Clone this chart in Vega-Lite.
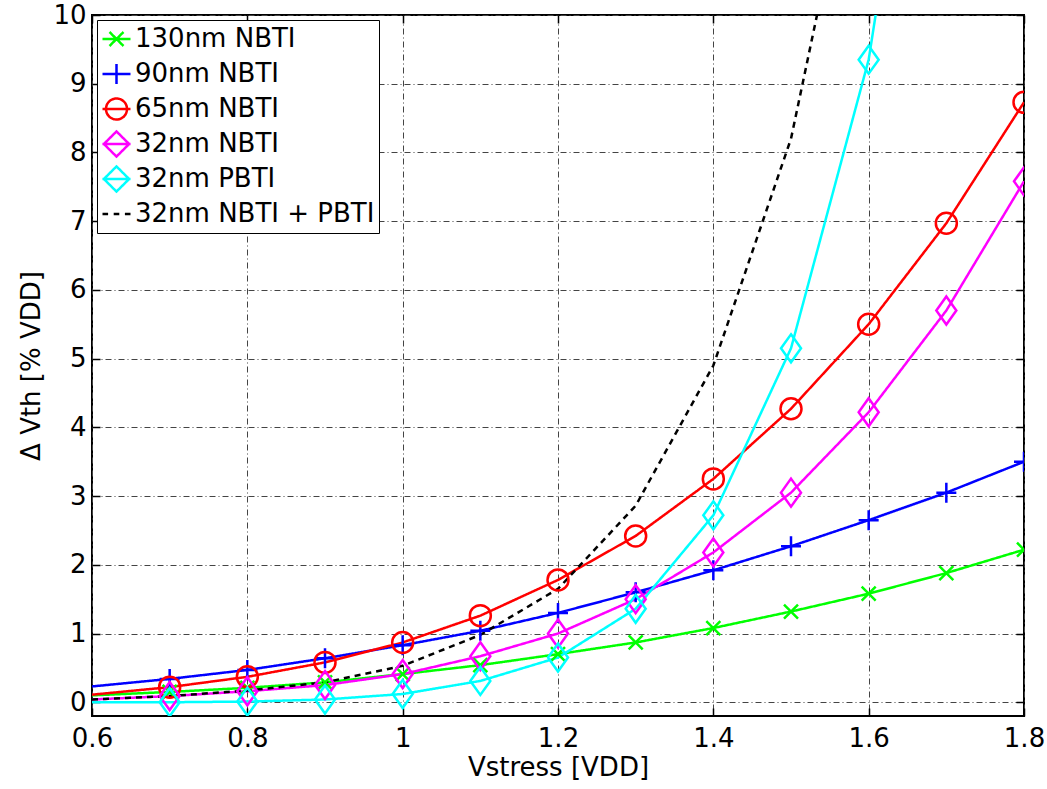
{
  "$schema": "https://vega.github.io/schema/vega-lite/v6.json",
  "width": 932,
  "height": 701,
  "autosize": "none",
  "padding": {"left": 92, "top": 15, "right": 23, "bottom": 73},
  "background": "white",
  "config": {
    "font": "DejaVu Sans",
    "view": {"stroke": "black", "strokeWidth": 2},
    "axis": {
      "labelFontSize": 26,
      "titleFontSize": 26,
      "labelColor": "black",
      "titleColor": "black",
      "titleFontWeight": "normal",
      "labelFont": "DejaVu Sans",
      "titleFont": "DejaVu Sans",
      "domain": false,
      "tickColor": "black",
      "tickWidth": 1.5,
      "tickSize": -8,
      "labelFlush": false,
      "labelOverlap": false,
      "gridColor": "#444444",
      "gridDash": [6, 3, 1, 3],
      "gridWidth": 1,
      "gridOpacity": 1
    }
  },
  "data": {
    "values": [
      {"series": "130nm NBTI", "x": 0.6, "y": 0.10},
      {"series": "130nm NBTI", "x": 0.7, "y": 0.15},
      {"series": "130nm NBTI", "x": 0.8, "y": 0.21},
      {"series": "130nm NBTI", "x": 0.9, "y": 0.29},
      {"series": "130nm NBTI", "x": 1.0, "y": 0.41},
      {"series": "130nm NBTI", "x": 1.1, "y": 0.54},
      {"series": "130nm NBTI", "x": 1.2, "y": 0.70},
      {"series": "130nm NBTI", "x": 1.3, "y": 0.87},
      {"series": "130nm NBTI", "x": 1.4, "y": 1.08},
      {"series": "130nm NBTI", "x": 1.5, "y": 1.32},
      {"series": "130nm NBTI", "x": 1.6, "y": 1.58},
      {"series": "130nm NBTI", "x": 1.7, "y": 1.88},
      {"series": "130nm NBTI", "x": 1.8, "y": 2.22},
      {"series": "90nm NBTI", "x": 0.6, "y": 0.23},
      {"series": "90nm NBTI", "x": 0.7, "y": 0.34},
      {"series": "90nm NBTI", "x": 0.8, "y": 0.47},
      {"series": "90nm NBTI", "x": 0.9, "y": 0.64},
      {"series": "90nm NBTI", "x": 1.0, "y": 0.83},
      {"series": "90nm NBTI", "x": 1.1, "y": 1.04},
      {"series": "90nm NBTI", "x": 1.2, "y": 1.30},
      {"series": "90nm NBTI", "x": 1.3, "y": 1.60},
      {"series": "90nm NBTI", "x": 1.4, "y": 1.92},
      {"series": "90nm NBTI", "x": 1.5, "y": 2.27},
      {"series": "90nm NBTI", "x": 1.6, "y": 2.65},
      {"series": "90nm NBTI", "x": 1.7, "y": 3.05},
      {"series": "90nm NBTI", "x": 1.8, "y": 3.50},
      {"series": "65nm NBTI", "x": 0.6, "y": 0.11},
      {"series": "65nm NBTI", "x": 0.7, "y": 0.22},
      {"series": "65nm NBTI", "x": 0.8, "y": 0.37},
      {"series": "65nm NBTI", "x": 0.9, "y": 0.58},
      {"series": "65nm NBTI", "x": 1.0, "y": 0.87},
      {"series": "65nm NBTI", "x": 1.1, "y": 1.26},
      {"series": "65nm NBTI", "x": 1.2, "y": 1.78},
      {"series": "65nm NBTI", "x": 1.3, "y": 2.42},
      {"series": "65nm NBTI", "x": 1.4, "y": 3.25},
      {"series": "65nm NBTI", "x": 1.5, "y": 4.27},
      {"series": "65nm NBTI", "x": 1.6, "y": 5.50},
      {"series": "65nm NBTI", "x": 1.7, "y": 6.97},
      {"series": "65nm NBTI", "x": 1.8, "y": 8.73},
      {"series": "32nm NBTI", "x": 0.6, "y": 0.04},
      {"series": "32nm NBTI", "x": 0.7, "y": 0.09},
      {"series": "32nm NBTI", "x": 0.8, "y": 0.16},
      {"series": "32nm NBTI", "x": 0.9, "y": 0.25},
      {"series": "32nm NBTI", "x": 1.0, "y": 0.41},
      {"series": "32nm NBTI", "x": 1.1, "y": 0.67},
      {"series": "32nm NBTI", "x": 1.2, "y": 1.00},
      {"series": "32nm NBTI", "x": 1.3, "y": 1.50},
      {"series": "32nm NBTI", "x": 1.4, "y": 2.18},
      {"series": "32nm NBTI", "x": 1.5, "y": 3.05},
      {"series": "32nm NBTI", "x": 1.6, "y": 4.22},
      {"series": "32nm NBTI", "x": 1.7, "y": 5.70},
      {"series": "32nm NBTI", "x": 1.8, "y": 7.58},
      {"series": "32nm PBTI", "x": 0.6, "y": 0.00},
      {"series": "32nm PBTI", "x": 0.7, "y": 0.00},
      {"series": "32nm PBTI", "x": 0.8, "y": 0.01},
      {"series": "32nm PBTI", "x": 0.9, "y": 0.04},
      {"series": "32nm PBTI", "x": 1.0, "y": 0.12},
      {"series": "32nm PBTI", "x": 1.1, "y": 0.31},
      {"series": "32nm PBTI", "x": 1.2, "y": 0.65},
      {"series": "32nm PBTI", "x": 1.3, "y": 1.36},
      {"series": "32nm PBTI", "x": 1.4, "y": 2.72},
      {"series": "32nm PBTI", "x": 1.5, "y": 5.15},
      {"series": "32nm PBTI", "x": 1.6, "y": 9.35},
      {"series": "32nm PBTI", "x": 1.7, "y": 16.6},
      {"series": "32nm PBTI", "x": 1.8, "y": 29.0},
      {"series": "32nm NBTI + PBTI", "x": 0.6, "y": 0.04},
      {"series": "32nm NBTI + PBTI", "x": 0.7, "y": 0.09},
      {"series": "32nm NBTI + PBTI", "x": 0.8, "y": 0.17},
      {"series": "32nm NBTI + PBTI", "x": 0.9, "y": 0.29},
      {"series": "32nm NBTI + PBTI", "x": 1.0, "y": 0.53},
      {"series": "32nm NBTI + PBTI", "x": 1.1, "y": 0.98},
      {"series": "32nm NBTI + PBTI", "x": 1.2, "y": 1.65},
      {"series": "32nm NBTI + PBTI", "x": 1.3, "y": 2.86},
      {"series": "32nm NBTI + PBTI", "x": 1.4, "y": 4.90},
      {"series": "32nm NBTI + PBTI", "x": 1.5, "y": 8.20},
      {"series": "32nm NBTI + PBTI", "x": 1.6, "y": 13.57},
      {"series": "32nm NBTI + PBTI", "x": 1.7, "y": 22.3},
      {"series": "32nm NBTI + PBTI", "x": 1.8, "y": 36.6}
    ]
  },
  "resolve": {"axis": {"x": "independent", "y": "independent"}},
  "layer": [
    {
      "mark": {"type": "line", "clip": true},
      "encoding": {
        "x": {
          "field": "x", "type": "quantitative",
          "scale": {"domain": [0.6, 1.8], "nice": false, "zero": false},
          "axis": {
            "title": "Vstress [VDD]",
            "values": [0.6, 0.8, 1.0, 1.2, 1.4, 1.6, 1.8],
            "format": "~g",
            "grid": true,
            "labelPadding": 17,
            "titlePadding": 3
          }
        },
        "y": {
          "field": "y", "type": "quantitative",
          "scale": {"domain": [-0.2, 10], "nice": false, "zero": false},
          "axis": {
            "title": "Δ Vth [% VDD]",
            "values": [0, 1, 2, 3, 4, 5, 6, 7, 8, 9, 10],
            "format": "d",
            "grid": true,
            "labelPadding": 14,
            "titlePadding": 8
          }
        },
        "detail": {"field": "series"},
        "color": {
          "field": "series", "type": "nominal",
          "scale": {
            "domain": ["130nm NBTI", "90nm NBTI", "65nm NBTI", "32nm NBTI", "32nm PBTI", "32nm NBTI + PBTI"],
            "range": ["#00ff00", "#0000ff", "#ff0000", "#ff00ff", "#00ffff", "#000000"]
          },
          "legend": {
            "title": null,
            "orient": "top-left",
            "offset": 5,
            "padding": 4,
            "rowPadding": 5,
            "clipHeight": 30,
            "fillColor": "white",
            "strokeColor": "black",
            "labelFontSize": 26,
            "labelFont": "DejaVu Sans",
            "labelColor": "black",
            "labelLimit": 400,
            "labelOffset": 3,
            "symbolSize": 784,
            "symbolStrokeWidth": 2.5,
            "encode": {
              "symbols": {
                "update": {
                  "shape": {"signal": "datum.value === '130nm NBTI' ? 'M-1,0L1,0M-0.5,-0.5L0.5,0.5M-0.5,0.5L0.5,-0.5' : datum.value === '90nm NBTI' ? 'M-1,0L1,0M0,-0.72L0,0.72' : datum.value === '65nm NBTI' ? 'M-1,0L1,0M0.75,0A0.75,0.75,0,1,1,-0.75,0A0.75,0.75,0,1,1,0.75,0' : datum.value === '32nm NBTI + PBTI' ? 'M-1,0L-0.6,0M-0.2,0L0.2,0M0.6,0L1,0' : 'M-1,0L1,0M0,-0.9L0.9,0L0,0.9L-0.9,0Z'"},
                  "fill": {"value": "transparent"},
                  "strokeWidth": {"value": 2.5}
                }
              }
            }
          }
        },
        "strokeDash": {
          "field": "series", "type": "nominal",
          "scale": {
            "domain": ["130nm NBTI", "90nm NBTI", "65nm NBTI", "32nm NBTI", "32nm PBTI", "32nm NBTI + PBTI"],
            "range": [[1, 0], [1, 0], [1, 0], [1, 0], [1, 0], [6, 5]]
          },
          "legend": null
        },
        "strokeWidth": {"value": 2.5}
      }
    },
    {
      "transform": [{"filter": "datum.x > 0.65 && datum.series !== '32nm NBTI + PBTI'"}],
      "mark": {"type": "point", "clip": true, "filled": false, "strokeWidth": 2.5, "opacity": 1, "size": 400},
      "encoding": {
        "x": {
          "field": "x", "type": "quantitative",
          "axis": {
            "orient": "top", "labels": false, "title": null, "grid": false,
            "values": [0.6, 0.8, 1.0, 1.2, 1.4, 1.6, 1.8]
          }
        },
        "y": {
          "field": "y", "type": "quantitative",
          "axis": {
            "orient": "right", "labels": false, "title": null, "grid": false,
            "values": [0, 1, 2, 3, 4, 5, 6, 7, 8, 9, 10]
          }
        },
        "color": {"field": "series", "type": "nominal", "legend": null},
        "shape": {
          "field": "series", "type": "nominal",
          "scale": {
            "domain": ["130nm NBTI", "90nm NBTI", "65nm NBTI", "32nm NBTI", "32nm PBTI"],
            "range": [
              "M-0.7,-0.7L0.7,0.7M-0.7,0.7L0.7,-0.7",
              "M-1,0L1,0M0,-1L0,1",
              "M1.05,0A1.05,1.05,0,1,1,-1.05,0A1.05,1.05,0,1,1,1.05,0",
              "M0,-1.4L1,0L0,1.4L-1,0Z",
              "M0,-1.4L1,0L0,1.4L-1,0Z"
            ]
          },
          "legend": null
        }
      }
    }
  ]
}
